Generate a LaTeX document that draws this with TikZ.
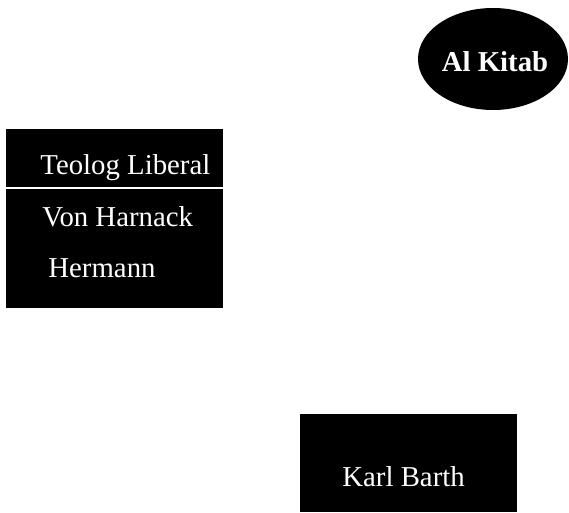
\documentclass[tikz,border=0pt]{standalone}
\usepackage{fontspec}
\setmainfont{Liberation Serif}
\usepackage{tikz}
\usetikzlibrary{shapes.geometric}
\definecolor{boxblack}{HTML}{000000}
\definecolor{boxtext}{HTML}{FFFFFF}

\begin{document}
\begin{tikzpicture}[x=0.5pt, y=-0.5pt,
    blackbox/.style={rectangle, fill=boxblack, inner sep=0pt, minimum width=108.5pt},
    bookoval/.style={ellipse, fill=boxblack, inner sep=0pt, minimum width=75pt, minimum height=51pt},
    whitetext/.style={text=boxtext, inner sep=0pt, font=\fontsize{14.4}{17}\selectfont}]
  \useasboundingbox (0,0) rectangle (569,513);
  % Al Kitab
  \node[bookoval] (kitab) at (493,59) {};
  \node[whitetext, anchor=base, font=\fontsize{14.4}{17}\selectfont\bfseries] (kitabtext) at (495,72) {Al Kitab};
  % liberal theologians
  \node[blackbox, minimum height=29pt] (liberal) at (114.5,158) {};
  \node[blackbox, minimum height=59.5pt] (names) at (114.5,248.5) {};
  \node[whitetext, anchor=base west] (liberaltext) at (40,175) {Teolog Liberal};
  \node[whitetext, anchor=base west] (harnack) at (42,227) {Von Harnack};
  \node[whitetext, anchor=base west] (hermann) at (48,278) {Hermann};
  % Karl Barth
  \node[blackbox, minimum height=49pt] (barth) at (408.5,463) {};
  \node[whitetext, anchor=base west] (barthtext) at (342,487) {Karl Barth};
\end{tikzpicture}
\end{document}
